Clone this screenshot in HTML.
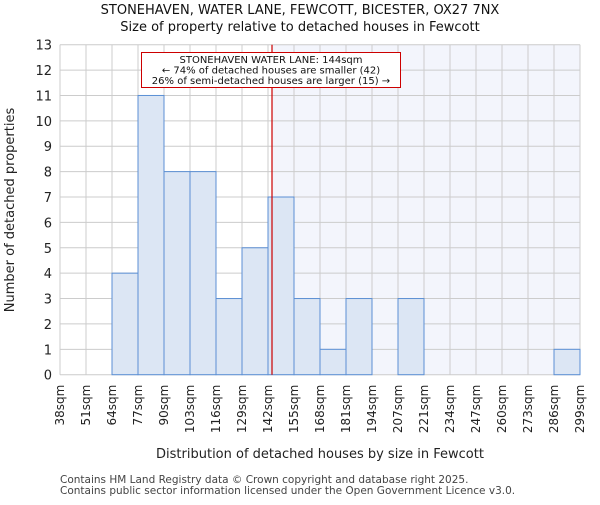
<!DOCTYPE html>
<html><head><meta charset="utf-8"><style>body{margin:0;background:#fff}svg{font-family:"DejaVu Sans","Liberation Sans",sans-serif}</style></head>
<body>
<svg width="600" height="500">
<script>
const categories=["38sqm","51sqm","64sqm","77sqm","90sqm","103sqm","116sqm","129sqm","142sqm","155sqm","168sqm","181sqm","194sqm","207sqm","221sqm","234sqm","247sqm","260sqm","273sqm","286sqm","299sqm"];
const counts=[0,0,4,11,8,8,3,5,7,3,1,3,0,3,0,0,0,0,0,1];
const yTicks=[0,1,2,3,4,5,6,7,8,9,10,11,12,13];
const markerIndex=8.154;
</script>
<g id="g"></g>
<script>
(function(){
const ns="http://www.w3.org/2000/svg",g=document.getElementById('g');
const L=60,R=580,T=44.7,B=374.7;
const x=i=>L+i*(R-L)/counts.length;
const y=v=>B-v*(B-T)/13;
function el(t,a,txt){const e=document.createElementNS(ns,t);for(const k in a)e.setAttribute(k,a[k]);if(txt!=null)e.textContent=txt;g.appendChild(e);return e;}
let s=el('rect',{x:x(markerIndex),y:T,width:R-x(markerIndex),height:B-T,fill:'#f3f5fc'});


yTicks.forEach(v=>{let l=el('line',{x1:L,x2:R,y1:y(v),y2:y(v),stroke:'#cccccc'});


let t=el('text',{x:L-8,y:y(v)+5,'text-anchor':'end','font-size':13,fill:'#222'},v);

});
categories.forEach((c,i)=>{let l=el('line',{x1:x(i),x2:x(i),y1:T,y2:B,stroke:'#cccccc'});


let t=el('text',{x:0,y:0,'text-anchor':'end','font-size':12,fill:'#222',transform:`translate(${x(i)+4},${B+10}) rotate(-90)`},c);

});
counts.forEach((v,i)=>{if(!v)return;let r=el('rect',{x:x(i),y:y(v),width:x(i+1)-x(i),height:B-y(v),fill:'#dce6f4',stroke:'#5b8fd4','stroke-width':1});

});
let m=el('line',{x1:x(markerIndex),x2:x(markerIndex),y1:T,y2:B,stroke:'#cc0000','stroke-width':1.2});


})();
</script>
<rect x="141.5" y="52.5" width="259" height="35" fill="#fff" stroke="#cc0000"/>
<text x="271" y="63" text-anchor="middle" font-size="10" fill="#111">STONEHAVEN WATER LANE: 144sqm</text>
<text x="271" y="73.5" text-anchor="middle" font-size="10" fill="#111">← 74% of detached houses are smaller (42)</text>
<text x="271" y="84" text-anchor="middle" font-size="10" fill="#111">26% of semi-detached houses are larger (15) →</text>
<text x="300" y="14" text-anchor="middle" font-size="13" fill="#111">STONEHAVEN, WATER LANE, FEWCOTT, BICESTER, OX27 7NX</text>
<text x="300" y="31" text-anchor="middle" font-size="13" fill="#111">Size of property relative to detached houses in Fewcott</text>
<text transform="translate(14,210) rotate(-90)" text-anchor="middle" font-size="13" fill="#222">Number of detached properties</text>
<text x="320" y="458" text-anchor="middle" font-size="13" fill="#222">Distribution of detached houses by size in Fewcott</text>
<text x="60" y="483" font-size="10.5" fill="#444">Contains HM Land Registry data © Crown copyright and database right 2025.</text>
<text x="60" y="494" font-size="10.5" fill="#444">Contains public sector information licensed under the Open Government Licence v3.0.</text>
</svg>
</body></html>
